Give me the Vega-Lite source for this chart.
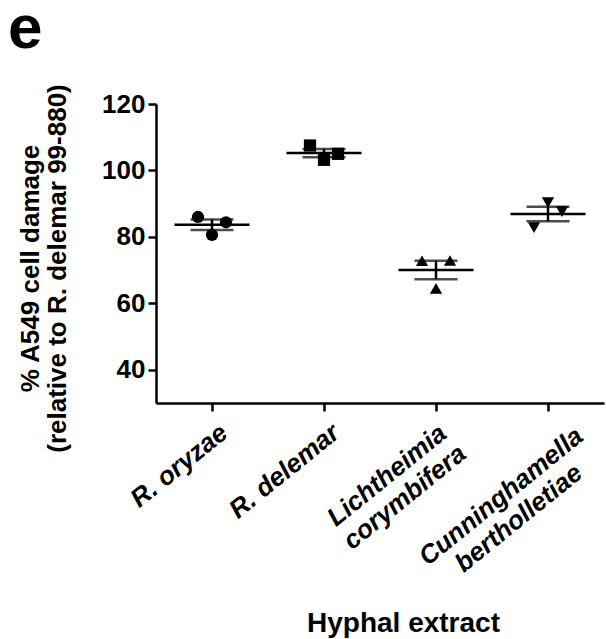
{
  "$schema": "https://vega.github.io/schema/vega-lite/v6.json",
  "width": 448,
  "height": 299,
  "autosize": {"type": "none"},
  "padding": {"left": 156, "top": 104, "right": 2, "bottom": 236},
  "background": "white",
  "title": {"text": "e", "fontSize": 62, "fontWeight": "bold", "font": "Liberation Sans", "color": "black", "anchor": "start", "frame": "group", "baseline": "alphabetic", "offset": 0, "dx": -148, "dy": 26},
  "config": {
    "view": {"stroke": null},
    "axis": {"grid": false, "domainColor": "black", "domainWidth": 2.5, "tickColor": "black", "tickWidth": 2.5, "tickSize": 8, "labelFont": "Liberation Sans", "labelFontWeight": "bold", "labelColor": "black", "titleFont": "Liberation Sans", "titleFontWeight": "bold", "titleColor": "black"}
  },
  "data": {
    "values": [
      {"species": "R. oryzae", "rep": 1, "value": 86.0},
      {"species": "R. oryzae", "rep": 2, "value": 80.6},
      {"species": "R. oryzae", "rep": 3, "value": 84.4},
      {"species": "R. delemar", "rep": 1, "value": 107.5},
      {"species": "R. delemar", "rep": 2, "value": 103.2},
      {"species": "R. delemar", "rep": 3, "value": 105.0},
      {"species": "Lichtheimia corymbifera", "rep": 1, "value": 72.8},
      {"species": "Lichtheimia corymbifera", "rep": 2, "value": 64.5},
      {"species": "Lichtheimia corymbifera", "rep": 3, "value": 72.9},
      {"species": "Cunninghamella bertholletiae", "rep": 1, "value": 82.8},
      {"species": "Cunninghamella bertholletiae", "rep": 2, "value": 90.3},
      {"species": "Cunninghamella bertholletiae", "rep": 3, "value": 87.6}
    ]
  },
  "encoding": {
    "x": {
      "field": "species", "type": "nominal",
      "sort": ["R. oryzae", "R. delemar", "Lichtheimia corymbifera", "Cunninghamella bertholletiae"],
      "scale": {"paddingInner": 0, "paddingOuter": 0},
      "axis": {
        "labelAngle": -39,
        "labelAlign": {"condition": {"test": "datum.value == 'Lichtheimia corymbifera' || datum.value == 'Cunninghamella bertholletiae'", "value": "center"}, "value": "right"},
        "labelBaseline": "top",
        "labelFontSize": 26, "labelFontStyle": "italic", "labelLineHeight": 28,
        "labelLimit": 0, "labelOverlap": false, "labelBound": false, "labelFlush": false,
        "labelPadding": {"condition": [{"test": "datum.value == 'Lichtheimia corymbifera'", "value": 54}, {"test": "datum.value == 'Cunninghamella bertholletiae'", "value": 75}], "value": 8},
        "labelOffset": {"condition": [{"test": "datum.value == 'Lichtheimia corymbifera'", "value": -57}, {"test": "datum.value == 'Cunninghamella bertholletiae'", "value": -55}], "value": 4},
        "labelExpr": "datum.value == 'Lichtheimia corymbifera' ? ['Lichtheimia', 'corymbifera'] : datum.value == 'Cunninghamella bertholletiae' ? ['Cunninghamella', 'bertholletiae'] : datum.value",
        "title": "Hyphal extract", "titleFontSize": 28, "titleX": 247, "titleY": 228, "titleBaseline": "alphabetic", "titleAlign": "center"
      }
    },
    "y": {
      "field": "value", "type": "quantitative",
      "scale": {"domain": [30, 120], "nice": false, "zero": false},
      "axis": {
        "values": [40, 60, 80, 100, 120], "labelFontSize": 26, "labelPadding": 3,
        "title": ["% A549 cell damage", "(relative to R. delemar 99-880)"],
        "titleFontSize": 26, "titleLineHeight": 27, "titleAngle": -90, "titleAlign": "center", "titleBaseline": "middle",
        "titleX": -126, "titleY": 164
      }
    }
  },
  "layer": [
    {
      "mark": {"type": "point", "filled": true, "color": "black", "opacity": 1, "size": 150},
      "encoding": {
        "xOffset": {"field": "rep", "type": "nominal", "scale": {"range": [35, 77]}},
        "shape": {"field": "species", "type": "nominal", "legend": null,
          "scale": {"domain": ["R. oryzae", "R. delemar", "Lichtheimia corymbifera", "Cunninghamella bertholletiae"], "range": ["circle", "square", "triangle-up", "triangle-down"]}}
      }
    },
    {
      "mark": {"type": "errorbar", "extent": "stderr", "color": "black", "ticks": {"size": 43, "thickness": 2.5, "color": "black"}, "rule": {"strokeWidth": 2.5, "color": "black"}}
    },
    {
      "mark": {"type": "tick", "color": "black", "size": 75, "thickness": 2.5, "opacity": 1},
      "encoding": {"y": {"aggregate": "mean", "field": "value", "type": "quantitative"}}
    }
  ]
}
